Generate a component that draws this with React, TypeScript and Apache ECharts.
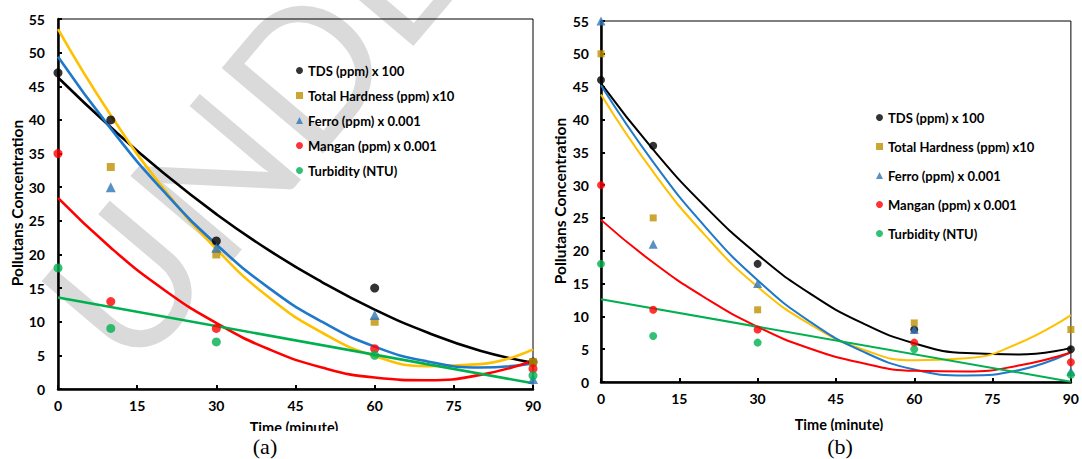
import React, { useEffect, useRef } from "react";
import * as echarts from "echarts";

// ---------- data ----------
const sampleTimes = [0, 10, 30, 60, 90];
const seriesNames = [
  "TDS (ppm) x 100",
  "Total Hardness (ppm) x10",
  "Ferro (ppm) x 0.001",
  "Mangan (ppm) x 0.001",
  "Turbidity (NTU)",
];

// panel (a)
const tdsA = [47, 40, 22, 15, 4];
const hardnessA = [null, 33, 20, 10, 4];
const ferroA = [null, 30, 21, 11, 1.5];
const manganA = [35, 13, 9, 6, 3];
const turbidityA = [18, 9, 7, 5, 2];

// panel (b)
const tdsB = [46, 36, 18, 8, 5];
const hardnessB = [50, 25, 11, 9, 8];
const ferroB = [55, 21, 15, 8, 1.6];
const manganB = [30, 11, 8, 6, 3];
const turbidityB = [18, 7, 6, 5, 1.1];

// trend lines
const trendTimes = [0, 10, 20, 30, 40, 50, 60, 70, 80, 90];
const tdsTrendA = [46.3, 38.9, 32.1, 26.0, 20.6, 15.9, 11.8, 8.4, 5.7, 3.9];
const hardnessTrendA = [53.5, 40.7, 29.8, 20.8, 13.6, 8.4, 4.9, 3.4, 3.7, 5.9];
const ferroTrendA = [49.4, 38.7, 29.4, 21.5, 15.0, 10.0, 6.3, 4.1, 3.2, 3.8];
const manganTrendA = [28.4, 21.0, 14.8, 9.8, 5.9, 3.2, 1.7, 1.3, 2.1, 4.2];
const turbidityTrendTimes = [0, 90];
const turbidityTrendA = [13.6, 0.85];

const tdsTrendB = [45.5, 35.4, 26.7, 19.4, 13.5, 9.0, 5.9, 4.4, 4.2, 5.2];
const hardnessTrendB = [43.8, 32.0, 22.3, 14.5, 8.8, 5.0, 3.3, 3.6, 5.9, 10.2];
const ferroTrendB = [45.2, 33.5, 23.6, 15.5, 9.2, 4.7, 1.9, 1.0, 1.8, 4.5];
const manganTrendB = [24.7, 18.2, 12.8, 8.4, 5.1, 2.9, 1.7, 1.6, 2.5, 4.5];
const turbidityTrendB = [12.6, 0.05];

const xTicks = { min: 0, max: 90, interval: 15 };
const yTicks = { min: 0, max: 55, interval: 5 };

// ---------- styles ----------
const markerColors = ["#000000", "#BF9000", "#2E75B6", "#FF0000", "#00B050"];
const lineColors = ["#000000", "#FFC000", "#1F78C8", "#FF0000", "#00B050"];
const symbols = ["circle", "rect", "triangle", "circle", "circle"];
const FONT = "Lato, 'Open Sans', sans-serif";

const zip = (xs: number[], ys: (number | null)[]) =>
  xs.map((x, i) => [x, ys[i]]).filter((p) => p[1] !== null);

function buildSeries(
  idx: number,
  points: (number | null)[][],
  trends: number[][],
  lineWidth: number,
  symSize: number
) {
  const out: any[] = [];
  trends.forEach((tr, k) => {
    const times = k === 4 ? turbidityTrendTimes : trendTimes;
    out.push({
      type: "line",
      name: seriesNames[k] + " trend",
      xAxisIndex: idx,
      yAxisIndex: idx,
      data: zip(times, tr),
      smooth: 0.5,
      showSymbol: false,
      silent: true,
      lineStyle: { color: lineColors[k], width: lineWidth },
      z: 2,
    });
  });
  points.forEach((pts, k) => {
    out.push({
      type: "scatter",
      name: seriesNames[k],
      xAxisIndex: idx,
      yAxisIndex: idx,
      data: zip(sampleTimes, pts),
      symbol: symbols[k],
      symbolSize: k === 1 ? symSize - 1 : k === 2 ? symSize + 1 : symSize,
      itemStyle: { color: markerColors[k] },
      clip: false,
      z: 3,
    });
  });
  return out;
}

const axisCommon = {
  type: "value" as const,
  axisLine: { show: true, onZero: false, lineStyle: { color: "#000", width: 2.5 } },
  axisTick: { show: true, inside: true, length: 4, lineStyle: { color: "#000", width: 2 } },
  splitLine: { show: false },
  axisLabel: { color: "#000", fontWeight: "bold" as const, fontSize: 14, fontFamily: FONT },
};

const titleFont = "bold 15.5px " + FONT;

export default function App() {
  const ref = useRef<HTMLDivElement>(null);
  useEffect(() => {
    const chart = echarts.init(ref.current!, null, { renderer: "svg" });
    const legendCommon = {
      orient: "vertical" as const,
      itemWidth: 7,
      itemHeight: 7,
      padding: 0,
      textStyle: { color: "#000", fontWeight: "bold" as const, fontSize: 13, fontFamily: FONT },
      data: seriesNames,
      selectedMode: false,
    };
    const option: any = {
      animation: false,
      backgroundColor: "#fff",
      grid: [
        { left: 58, top: 19, width: 475, height: 370, show: true, borderColor: "#000", borderWidth: 1 },
        { left: 601, top: 21, width: 477, height: 361, show: true, borderColor: "#000", borderWidth: 1 },
      ],
      xAxis: [
        { ...axisCommon, gridIndex: 0, ...xTicks, axisLabel: { ...axisCommon.axisLabel, margin: 9 } },
        { ...axisCommon, gridIndex: 1, ...xTicks, axisLabel: { ...axisCommon.axisLabel, margin: 9 } },
      ],
      yAxis: [
        { ...axisCommon, gridIndex: 0, ...yTicks, axisLabel: { ...axisCommon.axisLabel, margin: 13 } },
        { ...axisCommon, gridIndex: 1, ...yTicks, axisLabel: { ...axisCommon.axisLabel, margin: 12 } },
      ],
      legend: [
        { ...legendCommon, left: 296, top: 64, itemGap: 12 },
        { ...legendCommon, left: 876, top: 111, itemGap: 16 },
      ],
      series: [
        ...buildSeries(
          0,
          [tdsA, hardnessA, ferroA, manganA, turbidityA],
          [tdsTrendA, hardnessTrendA, ferroTrendA, manganTrendA, turbidityTrendA],
          2.6,
          9
        ),
        ...buildSeries(
          1,
          [tdsB, hardnessB, ferroB, manganB, turbidityB],
          [tdsTrendB, hardnessTrendB, ferroTrendB, manganTrendB, turbidityTrendB],
          2,
          8
        ),
      ],
      graphic: [
        {
          type: "text",
          x: 78,
          y: 332,
          rotation: 0.87,
          z: -10,
          silent: true,
          style: {
            text: "UNDER REVIEW",
            fill: "#DADADA",
            font: "normal 185px Lato, 'Open Sans', sans-serif",
            textAlign: "left",
            textVerticalAlign: "middle",
          },
        },
        {
          type: "text",
          x: 17,
          y: 203,
          rotation: Math.PI / 2,
          style: {
            text: "Pollutans Concentration",
            fill: "#000",
            font: titleFont,
            textAlign: "center",
            textVerticalAlign: "middle",
          },
        },
        {
          type: "text",
          x: 560,
          y: 201,
          rotation: Math.PI / 2,
          style: {
            text: "Pollutans Concentration",
            fill: "#000",
            font: titleFont,
            textAlign: "center",
            textVerticalAlign: "middle",
          },
        },
        {
          type: "text",
          x: 294,
          y: 427,
          style: { text: "Time (minute)", fill: "#000", font: "bold 14.5px " + FONT, textAlign: "center", textVerticalAlign: "middle" },
        },
        {
          type: "text",
          x: 839,
          y: 424,
          style: { text: "Time (minute)", fill: "#000", font: "bold 14.5px " + FONT, textAlign: "center", textVerticalAlign: "middle" },
        },
        { type: "rect", shape: { x: 220, y: 431, width: 160, height: 10 }, style: { fill: "#fff" }, z: 50 },
        { type: "rect", shape: { x: 780, y: 431, width: 120, height: 10 }, style: { fill: "#fff" }, z: 50 },
        {
          type: "text",
          x: 265,
          y: 446,
          z: 51,
          style: { text: "(a)", fill: "#000", font: "22px 'Liberation Serif', 'DejaVu Serif', serif", textAlign: "center", textVerticalAlign: "middle" },
        },
        {
          type: "text",
          x: 840,
          y: 446,
          z: 51,
          style: { text: "(b)", fill: "#000", font: "22px 'Liberation Serif', 'DejaVu Serif', serif", textAlign: "center", textVerticalAlign: "middle" },
        },
      ],
    };
    chart.setOption(option);
    return () => chart.dispose();
  }, []);
  return (
    <div
      ref={ref}
      style={{ position: "fixed", left: 0, top: 0, width: 1082, height: 459, background: "#fff" }}
    />
  );
}
